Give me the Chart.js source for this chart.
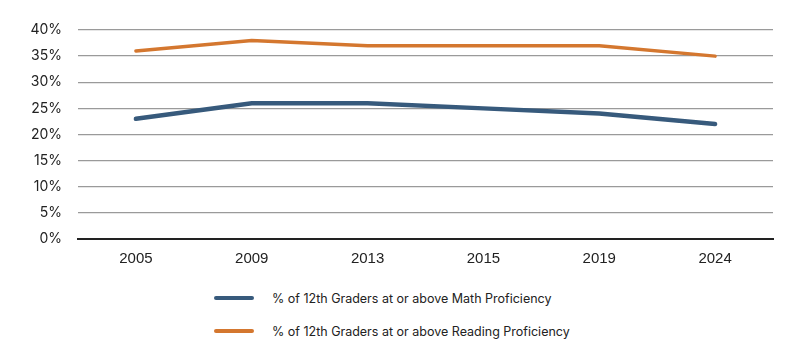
<!DOCTYPE html>
<html>
<head>
<meta charset="utf-8">
<script src="https://cdn.jsdelivr.net/npm/chart.js@4.4.1/dist/chart.umd.min.js"></script>
<style>
  html, body { margin: 0; padding: 0; background: #fff; }
  #wrap { position: relative; width: 800px; height: 357px; }
  #c { position: absolute; left: 0; top: 0; }
  #legend { position: absolute; left: 214px; top: 287px; font-family: Inter, "Liberation Sans", sans-serif; font-size: 12.5px; color: #222; }
  .item { display: flex; align-items: center; height: 22px; margin-bottom: 11px; }
  .swatch { width: 40px; height: 4px; border-radius: 2px; margin-right: 18px; }
</style>
</head>
<body>
<div id="wrap">
  <canvas id="c" width="800" height="270"></canvas>
  <div id="legend"></div>
</div>
<script>
const categories = ["2005", "2009", "2013", "2015", "2019", "2024"];
const mathValues = [23, 26, 26, 25, 24, 22];
const readingValues = [36, 38, 37, 37, 37, 35];
const seriesNames = ["% of 12th Graders at or above Math Proficiency", "% of 12th Graders at or above Reading Proficiency"];
const yTicks = [0, 5, 10, 15, 20, 25, 30, 35, 40];

const colors = ["#375a7c", "#d4772f"];

const ctx = document.getElementById('c');
const chart = new Chart(ctx, {
  type: 'line',
  data: {
    labels: categories,
    datasets: [
      { label: seriesNames[0], data: mathValues, borderColor: colors[0], backgroundColor: colors[0], borderWidth: 4.5, pointRadius: 0, borderCapStyle: 'round', tension: 0, fill: false },
      { label: seriesNames[1], data: readingValues, borderColor: colors[1], backgroundColor: colors[1], borderWidth: 3.5, pointRadius: 0, borderCapStyle: 'round', tension: 0, fill: false }
    ]
  },
  options: {
    responsive: false,
    animation: false,
    layout: { padding: { top: 30, right: 27, left: 0, bottom: 0 } },
    plugins: { legend: { display: false }, tooltip: { enabled: false } },
    scales: {
      x: {
        offset: true,
        grid: { display: false, drawTicks: false },
        border: { display: true, color: '#222', width: 2 },
        ticks: { color: '#222', padding: 11, font: { family: '"Liberation Sans Narrow", "Liberation Sans", sans-serif', size: 15 } },
        afterFit: s => { s.height = 31; }
      },
      y: {
        min: 0, max: 40,
        afterBuildTicks: s => { s.ticks = yTicks.map(v => ({ value: v })); },
        grid: {
          drawTicks: false,
          color: c => c.tick && c.tick.value === 0 ? '#222' : '#9a9a9a',
          lineWidth: c => c.tick && c.tick.value === 0 ? 2 : 1.3
        },
        border: { display: false },
        ticks: { color: '#222', padding: 16, callback: v => v + '%', font: { family: 'Inter, "Liberation Sans", sans-serif', size: 14 } },
        afterFit: s => { s.width = 78; }
      }
    }
  }
});

const legend = document.getElementById('legend');
chart.data.datasets.forEach(ds => {
  const item = document.createElement('div');
  item.className = 'item';
  const sw = document.createElement('div');
  sw.className = 'swatch';
  sw.style.background = ds.borderColor;
  const t = document.createElement('span');
  t.textContent = ds.label;
  item.appendChild(sw); item.appendChild(t);
  legend.appendChild(item);
});
</script>
</body>
</html>
